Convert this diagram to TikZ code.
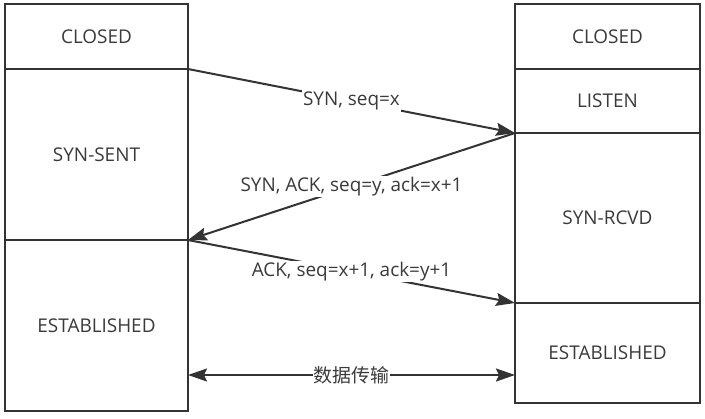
\documentclass[tikz,border=0pt]{standalone}
\usepackage{fontspec}
\setmainfont{Open Sans}
\newfontfamily\cjk{Noto Sans CJK SC}
\usetikzlibrary{arrows.meta}
\definecolor{ln}{HTML}{333333}
\definecolor{tx}{HTML}{3A3A3A}
\begin{document}
\begin{tikzpicture}[x=1bp,y=-1bp,
  state/.style={draw=ln,line width=2bp,anchor=north west,inner sep=0pt,outer sep=0pt,
    text=tx,font=\fontsize{19}{22}\selectfont,align=center},
  msg/.style={draw=ln,line width=2bp,-{Stealth[length=19bp,width=13bp,inset=3bp]}},
  lbl/.style={fill=white,text=tx,inner sep=1.5bp,font=\fontsize{19}{22}\selectfont}]
\useasboundingbox (0,0) rectangle (705,418);
% left column
\node[state,minimum width=183bp,minimum height=65bp] (lclosed) at (5,4) {CLOSED};
\node[state,minimum width=183bp,minimum height=171bp] (lsent) at (5,69) {SYN-SENT};
\node[state,minimum width=183bp,minimum height=171bp] (lest) at (5,240) {ESTABLISHED};
% right column
\node[state,minimum width=185bp,minimum height=65bp] (rclosed) at (515,4) {CLOSED};
\node[state,minimum width=185bp,minimum height=64bp] (rlisten) at (515,69) {LISTEN};
\node[state,minimum width=185bp,minimum height=170bp] (rrcvd) at (515,133) {SYN-RCVD};
\node[state,minimum width=185bp,minimum height=100bp] (rest) at (515,303) {ESTABLISHED};
% messages
\draw[msg] (lclosed.south east) -- node[lbl] (m1) {SYN, seq=x} (rlisten.south west);
\draw[msg] (rlisten.south west) -- node[lbl] (m2) {SYN, ACK, seq=y, ack=x+1} (lsent.south east);
\draw[msg] (lsent.south east) -- node[lbl] (m3) {ACK, seq=x+1, ack=y+1} (rrcvd.south west);
\coordinate (dl) at (188,375);
\coordinate (dr) at (515,375);
\draw[msg,{Stealth[length=19bp,width=13bp,inset=3bp]}-{Stealth[length=19bp,width=13bp,inset=3bp]}] (dl) -- node[lbl,inner sep=0.5bp] (m4) {\cjk 数据传输} (dr);
\end{tikzpicture}
\end{document}
